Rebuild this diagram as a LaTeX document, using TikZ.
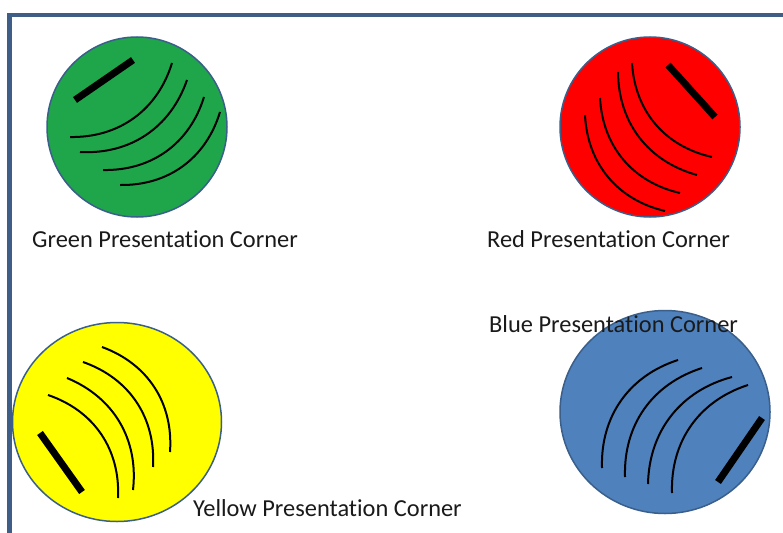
\documentclass[tikz,border=0pt]{standalone}
\usepackage{fontspec}
\setmainfont{Carlito}[Ligatures=NoCommon]
\usetikzlibrary{shapes.geometric}
\definecolor{frameblue}{RGB}{62,94,135}
\definecolor{outline}{RGB}{58,95,139}
\definecolor{ballgreen}{RGB}{32,166,74}
\definecolor{ballred}{RGB}{255,0,0}
\definecolor{ballyellow}{RGB}{255,255,0}
\definecolor{ballblue}{RGB}{79,129,189}
\definecolor{txt}{RGB}{26,26,26}
\begin{document}
\begin{tikzpicture}[x=1pt,y=-1pt,
  ball/.style={ellipse, draw=outline, line width=1.5pt, inner sep=0pt},
  groove/.style={line width=2pt, draw=black},
  bar/.style={line width=7pt, draw=black},
  cornerlabel/.style={font=\fontsize{24.4}{28}\selectfont, text=txt, inner sep=0pt, anchor=base west}]
\useasboundingbox (0,0) rectangle (783,532);
\fill[white] (0,0) rectangle (783,532);
\draw[frameblue, line width=4.5pt] (9.5,545) -- (9.5,15) -- (800,15);

% Green
\node[ball, fill=ballgreen, minimum width=180pt, minimum height=180pt] (green) at (137,127) {};
\draw[bar] (75,100) -- (133,60);
\draw[groove] (70,137) to[bend right=37] (172,63);
\draw[groove] (80,152) to[bend right=37] (187,80);
\draw[groove] (103,170) to[bend right=37] (204,97);
\draw[groove] (120,185) to[bend right=37] (220,112);
\node[cornerlabel] (greenlabel) at (32,247) {Green Presentation Corner};

% Red
\node[ball, fill=ballred, minimum width=180pt, minimum height=180pt] (red) at (650,127) {};
\draw[bar] (668,65) -- (715,117);
\draw[groove] (632,63) to[bend right=37] (712,157);
\draw[groove] (618,72) to[bend right=37] (697,175);
\draw[groove] (600,98) to[bend right=37] (680,193);
\draw[groove] (585,115) to[bend right=37] (665,211);
\node[cornerlabel] (redlabel) at (487,247) {Red Presentation Corner};

% Yellow
\node[ball, fill=ballyellow, minimum width=209pt, minimum height=199pt] (yellow) at (117,422) {};
\draw[bar] (40,433) -- (82,492);
\draw[groove] (48,395) to[bend left=37] (118,498);
\draw[groove] (67,378) to[bend left=37] (133,490);
\draw[groove] (83,362) to[bend left=37] (153,467);
\draw[groove] (102,347) to[bend left=37] (170,452);
\node[cornerlabel] (yellowlabel) at (193,516) {Yellow Presentation Corner};

% Blue
\node[ball, fill=ballblue, minimum width=210pt, minimum height=203pt] (blue) at (665,412) {};
\draw[bar] (718,482) -- (762,418);
\draw[groove] (678,360) to[bend right=37] (602,468);
\draw[groove] (702,368) to[bend right=37] (625,477);
\draw[groove] (732,377) to[bend right=37] (648,484);
\draw[groove] (748,385) to[bend right=37] (672,493);
\node[cornerlabel] (bluelabel) at (489,332) {Blue Presentation Corner};
\end{tikzpicture}
\end{document}
